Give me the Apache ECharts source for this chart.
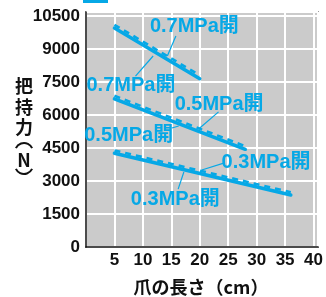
<!DOCTYPE html>
<html><head><meta charset="utf-8">
<script src="https://cdn.jsdelivr.net/npm/echarts@6/dist/echarts.min.js"></script>
<style>html,body{margin:0;padding:0;background:#fff}#c{width:326px;height:297px}</style>
</head><body><div id="c"></div>
<script>
// Data
const xTicks = [5, 10, 15, 20, 25, 30, 35, 40];
const yTicks = [0, 1500, 3000, 4500, 6000, 7500, 9000, 10500];
const x07 = [5, 20];
const solid07 = [9950, 7650];
const dashed07 = [10100, 7800];
const x05 = [5, 28];
const solid05 = [6730, 4440];
const dashed05 = [6870, 4580];
const x03 = [5, 36];
const solid03 = [4260, 2360];
const dashed03 = [4390, 2490];
// Annotation texts with positions in data coordinates [x, y], and leader lines
const annTexts = ['0.7MPa開', '0.7MPa開', '0.5MPa開', '0.5MPa開', '0.3MPa開', '0.3MPa開'];
const annPos = [[19.05, 10000], [7.9, 7360], [23.4, 6455], [7.5, 5090], [31.65, 3820], [15.7, 2180]];
const annLeaders = [
  [[15.8, 9590], [14.3, 8680]],
  [[8.7, 7770], [11.8, 8680]],
  [[23.3, 6140], [19.8, 5360]],
  [[15.1, 5410], [16.3, 5500]],
  [[24.35, 3820], [20.35, 3500]],
  [[17.2, 3410], [16.2, 2630]]
];
const COLOR = '#06a8e6';
const chart = echarts.init(document.getElementById('c'), null, {renderer: 'canvas'});
function pairs(xs, ys) { return xs.map((x, i) => [x, ys[i]]); }
const solidStyle = {color: COLOR, width: 3.5, cap: 'round'};
const dashStyle = {color: COLOR, width: 2.6, type: [6, 5]};
function mkSeries(xs, ys, style) {
  return {type: 'line', data: pairs(xs, ys), symbol: 'none', lineStyle: style, silent: true, animation: false, z: 3};
}
chart.setOption({
  animation: false,
  grid: {left: 86, right: 6, top: 12, bottom: 50, show: true, backgroundColor: '#cbcbcb', borderColor: '#555', borderWidth: 1.5},
  xAxis: {
    type: 'value', min: 0, max: 40.8, interval: 5,
    axisLine: {show: true, lineStyle: {color: '#111', width: 1.5}},
    axisTick: {show: false},
    axisLabel: {margin: 5, color: '#111', fontSize: 17, fontWeight: 'bold', fontFamily: 'Liberation Sans',
      formatter: v => (v > 0 && xTicks.indexOf(v) >= 0) ? String(v) : ''},
    splitLine: {show: true, lineStyle: {color: '#fff', width: 2}}
  },
  yAxis: {
    type: 'value', min: 0, max: 10680, interval: 1500,
    axisLine: {show: true, lineStyle: {color: '#111', width: 1.5}},
    axisTick: {show: false},
    axisLabel: {margin: 6, color: '#111', fontSize: 17, fontWeight: 'bold', fontFamily: 'Liberation Sans',
      formatter: v => yTicks.indexOf(v) >= 0 ? String(v) : ''},
    splitLine: {show: true, lineStyle: {color: '#fff', width: 2}}
  },
  series: [
    mkSeries(x07, solid07, solidStyle), mkSeries(x07, dashed07, dashStyle),
    mkSeries(x05, solid05, solidStyle), mkSeries(x05, dashed05, dashStyle),
    mkSeries(x03, solid03, solidStyle), mkSeries(x03, dashed03, dashStyle)
  ]
});
const g = [];
g.push({type: 'rect', shape: {x: 83, y: 0, width: 25, height: 3}, style: {fill: COLOR}});
annTexts.forEach((t, i) => {
  const p = chart.convertToPixel({gridIndex: 0}, annPos[i]);
  g.push({type: 'text', x: p[0], y: p[1], z: 10, style: {text: t, fill: COLOR, font: 'bold 20px "Liberation Sans", "Noto Sans CJK JP"', align: 'center', verticalAlign: 'middle'}});
  const a = chart.convertToPixel({gridIndex: 0}, annLeaders[i][0]);
  const b = chart.convertToPixel({gridIndex: 0}, annLeaders[i][1]);
  g.push({type: 'line', z: 10, shape: {x1: a[0], y1: a[1], x2: b[0], y2: b[1]}, style: {stroke: COLOR, lineWidth: 1.2}});
});
const yName = [['把', 86], ['持', 107], ['力', 127], ['N', 160]];
yName.forEach(([ch, y]) => {
  g.push({type: 'text', x: 24, y: y, style: {text: ch, fill: '#111', font: 'bold 18px "Noto Sans CJK JP", "Liberation Sans"', align: 'center', verticalAlign: 'middle'}});
});
// vertical parentheses drawn as arcs
g.push({type: 'arc', shape: {cx: 24, cy: 152, r: 9, startAngle: Math.PI + 0.45, endAngle: 2 * Math.PI - 0.45, clockwise: true}, style: {stroke: '#111', lineWidth: 2, fill: null}});
g.push({type: 'arc', shape: {cx: 24, cy: 165, r: 9, startAngle: 0.45, endAngle: Math.PI - 0.45, clockwise: true}, style: {stroke: '#111', lineWidth: 2, fill: null}});
g.push({type: 'text', x: 201, y: 287, style: {text: '爪の長さ（cm）', fill: '#111', font: 'bold 18px "Noto Sans CJK JP"', align: 'center', verticalAlign: 'middle'}});
chart.setOption({graphic: g});
</script></body></html>
